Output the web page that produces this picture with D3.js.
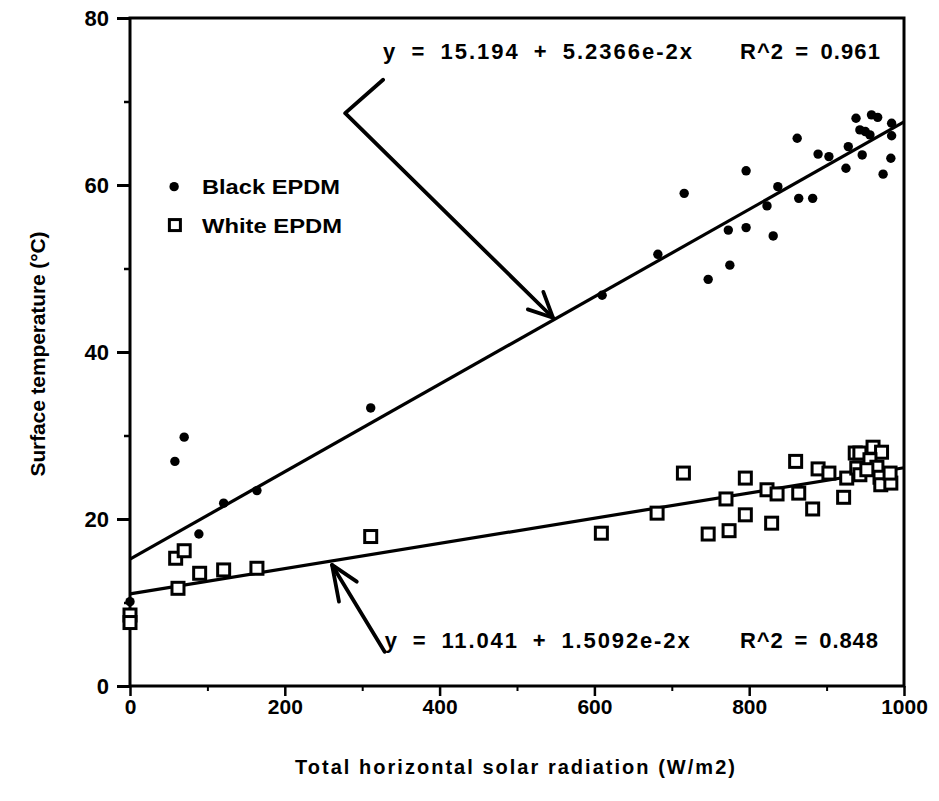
<!DOCTYPE html>
<html>
<head>
<meta charset="utf-8">
<script src="https://cdn.jsdelivr.net/npm/d3@7/dist/d3.min.js"></script>
<style>
  html, body { margin: 0; padding: 0; background: #fff; }
  svg { display: block; }
  text { font-family: "Liberation Sans", Arial, Helvetica, sans-serif; fill: #000; }
</style>
</head>
<body>
<svg id="chart" width="939" height="801"></svg>
<script>
// ---- Data ----
const blackX = [0, 58, 70, 89, 121, 164, 311, 610, 682, 716, 747, 775, 773, 796, 796, 823, 831, 837, 862, 864, 882, 889, 903, 925, 928, 938, 943, 950, 946, 956, 958, 966, 973, 983, 984, 984];
const blackY = [10.1, 26.9, 29.8, 18.2, 21.9, 23.4, 33.3, 46.8, 51.7, 59.0, 48.7, 50.4, 54.6, 54.9, 61.7, 57.5, 53.9, 59.8, 65.6, 58.4, 58.4, 63.7, 63.4, 62.0, 64.6, 68.0, 66.6, 66.4, 63.6, 66.0, 68.4, 68.1, 61.3, 63.2, 65.9, 67.4];
const whiteX = [0, 0, 59, 70, 62, 90, 121, 164, 311, 609, 681, 715, 747, 774, 770, 795, 795, 823, 836, 829, 860, 864, 882, 889, 903, 922, 926, 937, 943, 939, 943, 960, 971, 956, 965, 952, 969, 970, 983, 982];
const whiteY = [8.5, 7.6, 15.3, 16.2, 11.7, 13.5, 13.9, 14.1, 17.9, 18.3, 20.7, 25.5, 18.2, 18.6, 22.4, 24.9, 20.5, 23.5, 23.0, 19.5, 26.9, 23.1, 21.2, 26.0, 25.5, 22.6, 24.9, 27.9, 27.9, 26.1, 25.3, 28.6, 28.0, 27.1, 26.2, 25.9, 25.0, 24.1, 24.3, 25.5];
const fitBlack = [15.194, 5.2366e-2];
const fitWhite = [11.041, 1.5092e-2];
const eqBlack = ["y = 15.194 + 5.2366e-2x", "R^2 = 0.961"];
const eqWhite = ["y = 11.041 + 1.5092e-2x", "R^2 = 0.848"];
const seriesNames = ["Black EPDM", "White EPDM"];
const xTicks = [0, 200, 400, 600, 800, 1000];
const yTicks = [0, 20, 40, 60, 80];
const xTitle = "Total horizontal solar radiation (W/m2)";
const yTitle = "Surface temperature (\u00B0C)";

// ---- Layout ----
const svg = d3.select("#chart");
const L = 130, R = 904, T = 18, B = 686;
const x = d3.scaleLinear().domain([0, 1000]).range([L, R]);
const y = d3.scaleLinear().domain([0, 80]).range([B, T]);
const FONT = "Liberation Sans, Arial, sans-serif";

// frame
svg.append("rect").attr("x", L).attr("y", T).attr("width", R - L).attr("height", B - T)
  .attr("fill", "none").attr("stroke", "#000").attr("stroke-width", 3);

// y axis
const yAxis = d3.axisLeft(y).tickValues(yTicks).tickSize(13).tickPadding(8).tickFormat(d3.format("d"));
const gy = svg.append("g").attr("transform", `translate(${L},0)`).call(yAxis);
gy.select(".domain").remove();
gy.selectAll("line").attr("stroke-width", 3);
gy.selectAll("text").attr("font-size", 22).attr("font-weight", "bold").attr("font-family", FONT);
const yMinor = d3.axisLeft(y).tickValues([10, 30, 50, 70]).tickSize(6).tickFormat("");
const gym = svg.append("g").attr("transform", `translate(${L},0)`).call(yMinor);
gym.select(".domain").remove();
gym.selectAll("line").attr("stroke-width", 2.5);

// x axis
const xAxis = d3.axisBottom(x).tickValues(xTicks).tickSize(10).tickPadding(3).tickFormat(d3.format("d"));
const gx = svg.append("g").attr("transform", `translate(0,${B})`).call(xAxis);
gx.select(".domain").remove();
gx.selectAll("line").attr("stroke-width", 2.5);
gx.selectAll("text").attr("font-size", 21).attr("font-weight", "bold").attr("font-family", FONT);
const xMinor = d3.axisBottom(x).tickValues([100, 300, 500, 700, 900]).tickSize(5).tickFormat("");
const gxm = svg.append("g").attr("transform", `translate(0,${B})`).call(xMinor);
gxm.select(".domain").remove();
gxm.selectAll("line").attr("stroke-width", 2);

// axis titles
svg.append("text").attr("x", (L + R) / 2 - 2).attr("y", 774).attr("text-anchor", "middle")
  .attr("font-size", 20).attr("font-weight", "bold").attr("textLength", 440).attr("lengthAdjust", "spacing")
  .text(xTitle);
svg.append("text").attr("transform", `translate(45,${(T + B) / 2 + 2}) rotate(-90)`).attr("text-anchor", "middle")
  .attr("font-size", 21).attr("font-weight", "bold").attr("textLength", 245).attr("lengthAdjust", "spacing")
  .text(yTitle);

// regression lines
const line = d3.line().x(d => x(d[0])).y(d => y(d[1]));
[fitBlack, fitWhite].forEach(f => {
  svg.append("path").attr("d", line([[0, f[0]], [1000, f[0] + f[1] * 1000]]))
    .attr("fill", "none").attr("stroke", "#000").attr("stroke-width", 3.2);
});

// points
svg.append("g").selectAll("circle").data(blackX.map((v, i) => [v, blackY[i]])).join("circle")
  .attr("cx", d => x(d[0])).attr("cy", d => y(d[1])).attr("r", 4.7).attr("fill", "#000");
svg.append("g").selectAll("rect").data(whiteX.map((v, i) => [v, whiteY[i]])).join("rect")
  .attr("x", d => x(d[0]) - 6).attr("y", d => y(d[1]) - 6).attr("width", 12).attr("height", 12)
  .attr("fill", "#fff").attr("stroke", "#000").attr("stroke-width", 3);

// annotations (data-space coordinates)
const arrowStyle = p => p.attr("fill", "none").attr("stroke", "#000").attr("stroke-width", 3.8)
  .attr("stroke-linejoin", "round").attr("stroke-linecap", "round");
arrowStyle(svg.append("path").attr("d", line([[327, 72.6], [278, 68.6], [546.5, 44.1]])));
arrowStyle(svg.append("path").attr("d", line([[514, 45.1], [546.5, 44.1], [534, 47.2]])));
arrowStyle(svg.append("path").attr("d", line([[329, 4.1], [261, 14.5]])));
arrowStyle(svg.append("path").attr("d", line([[293, 12.5], [261, 14.5], [270, 10.1]])));

function equation(parts, xv, yv, widths, gapStart) {
  svg.append("text").attr("x", x(xv)).attr("y", y(yv)).attr("font-size", 22).attr("font-weight", "bold")
    .style("word-spacing", "6px")
    .attr("textLength", widths[0]).attr("lengthAdjust", "spacing").text(parts[0]);
  svg.append("text").attr("x", x(gapStart)).attr("y", y(yv)).attr("font-size", 22).attr("font-weight", "bold")
    .style("word-spacing", "4px")
    .attr("textLength", widths[1]).attr("lengthAdjust", "spacing").text(parts[1]);
}
equation(eqBlack, 327, 75.1, [309, 140], 788);
equation(eqWhite, 329, 4.5, [305, 138], 788);

// legend
svg.append("circle").attr("cx", x(57)).attr("cy", y(59.8)).attr("r", 4.7).attr("fill", "#000");
svg.append("rect").attr("x", x(58) - 5.5).attr("y", y(55.2) - 5.5).attr("width", 11).attr("height", 11)
  .attr("fill", "#fff").attr("stroke", "#000").attr("stroke-width", 3);
svg.append("text").attr("x", x(93)).attr("y", y(59.8) + 7.5).attr("font-size", 21).attr("font-weight", "bold")
  .attr("textLength", 138).attr("lengthAdjust", "spacingAndGlyphs").text(seriesNames[0]);
svg.append("text").attr("x", x(93)).attr("y", y(55.2) + 7.5).attr("font-size", 21).attr("font-weight", "bold")
  .attr("textLength", 140).attr("lengthAdjust", "spacingAndGlyphs").text(seriesNames[1]);
</script>
</body>
</html>
